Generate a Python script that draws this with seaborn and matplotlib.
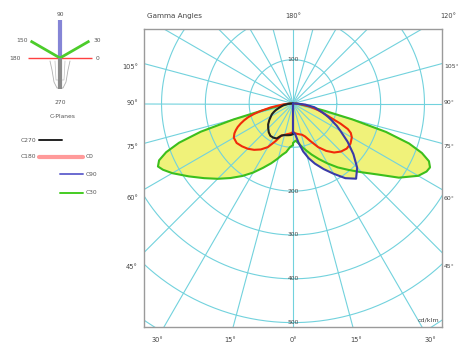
import numpy as np
import pandas as pd
import matplotlib
matplotlib.use('Agg')
import matplotlib.pyplot as plt
import seaborn as sns

# gamma angles (deg from nadir) and intensities in cd/klm
gamma = [0, 4, 8, 12, 16, 20, 25, 30, 35, 40, 45, 50, 55, 60, 63, 65, 67, 69, 71, 73, 75, 77, 80, 85, 90]
green_c150 = [95, 100, 112, 120, 132, 145, 162, 182, 202, 222, 243, 265, 290, 318, 333, 340, 332, 310, 275, 220, 140, 75, 35, 12, 3]
green_c30 = [90, 85, 92, 102, 112, 124, 140, 158, 178, 198, 222, 252, 295, 330, 342, 345, 337, 315, 280, 222, 140, 75, 35, 12, 3]
red_c180 = [65, 68, 70, 72, 75, 78, 95, 115, 128, 138, 146, 152, 157, 156, 150, 144, 137, 128, 118, 107, 92, 75, 52, 22, 5]
red_c0 = [65, 68, 70, 72, 74, 80, 95, 115, 132, 146, 155, 160, 160, 155, 148, 138, 118, 95, 80, 70, 60, 50, 38, 18, 5]
black_c270 = [70, 72, 73, 74, 75, 78, 88, 90, 90, 86, 80, 74, 66, 58, 54, 50, 46, 42, 37, 33, 29, 26, 22, 12, 4]
blue_c90 = [65, 70, 90, 112, 130, 146, 165, 185, 208, 224, 207, 180, 152, 125, 112, 102, 94, 86, 78, 70, 63, 57, 50, 28, 6]

ring_values = [100, 200, 300, 400, 500, 600, 700]
ring_labels = [100, 200, 300, 400, 500]
side_labels = ['105°', '90°', '75°', '60°', '45°']
bottom_labels = ['30°', '15°', '0°', '15°', '30°']

c_planes = [90, 0, 180, 30, 150, 270]
c_plane_labels = ['90', '0', '180', '30', '150', '270']
legend_names = ['C270', 'C180', 'C0', 'C90', 'C30']

GRID = '#72d2dd'
YELLOW = '#f0f27a'
COLORS = {'green': '#3cbf1c', 'red': '#f02a0a', 'black': '#222222', 'blue': '#3a3aa8'}
TXT = '#444444'


def to_xy(g, r, side):
    g = np.radians(g)
    r = np.asarray(r, float)
    return side * r * np.sin(g), -r * np.cos(g)


def closed(left, right):
    # left half from 90 deg down to nadir, right half from nadir up to 90 deg
    xs, ys = [], []
    if left is not None:
        x, y = to_xy(gamma, left, -1)
        xs += list(x[::-1]); ys += list(y[::-1])
    if right is not None:
        x, y = to_xy(gamma, right, 1)
        xs += list(x); ys += list(y)
    if left is None or right is None:
        xs = [0] + xs + [0]; ys = [0] + ys + [0]
    return xs, ys


curves = {
    'green': closed(green_c150, green_c30),
    'red': closed(red_c180, red_c0),
    'black': closed(black_c270, None),
    'blue': closed(None, blue_c90),
}
rows = []
for name, (xs, ys) in curves.items():
    for x, y in zip(xs, ys):
        rows.append({'curve': name, 'x': x, 'y': y})
df = pd.DataFrame(rows)

sns.set_style('white')
plt.rcParams['font.family'] = ['DejaVu Sans']

fig = plt.figure(figsize=(4.58, 3.48), dpi=100)
ax = fig.add_axes([144 / 458, 1 - 327 / 348, 298 / 458, 298 / 348])
ax.set_xlim(-340, 340)
ax.set_ylim(-510, 170)
ax.set_xticks([]); ax.set_yticks([])
for s in ax.spines.values():
    s.set_color('#9a9a9a'); s.set_linewidth(1.0)

# yellow fill under everything
for name, (xs, ys) in curves.items():
    ax.fill(xs, ys, color=YELLOW, lw=0, zorder=1)

# polar grid
t = np.linspace(0, 2 * np.pi, 361)
for rv in ring_values:
    ax.plot(rv * np.cos(t), rv * np.sin(t), color=GRID, lw=0.8, zorder=2)
for a in range(0, 360, 15):
    ar = np.radians(a)
    ax.plot([0, 800 * np.cos(ar)], [0, 800 * np.sin(ar)], color=GRID, lw=0.8, zorder=2)

sns.lineplot(data=df, x='x', y='y', hue='curve', palette=COLORS, sort=False,
             estimator=None, legend=False, lw=1.5, ax=ax, zorder=3)
ax.set_xlabel(''); ax.set_ylabel('')

for rv in ring_labels:
    yy = rv if rv == 100 else -rv
    ax.text(0, yy, str(rv), ha='center', va='center', fontsize=4.3, color=TXT, zorder=4)

ax.text(0.99, 0.015, 'cd/klm', transform=ax.transAxes, ha='right', va='bottom', fontsize=4.6, color=TXT)

# frame labels
side_y = [67, 103, 147, 198, 267]
for lab, py in zip(side_labels, side_y):
    fig.text(138 / 458, 1 - py / 348, lab, ha='right', va='center', fontsize=4.8, color=TXT)
    fig.text(444 / 458, 1 - py / 348, lab, ha='left', va='center', fontsize=4.4, color=TXT)
bottom_x = [157, 230, 293, 356, 430]
for lab, px in zip(bottom_labels, bottom_x):
    fig.text(px / 458, 1 - 340 / 348, lab, ha='center', va='center', fontsize=4.8, color=TXT)
fig.text(147 / 458, 1 - 16 / 348, 'Gamma Angles', ha='left', va='center', fontsize=5.2, color=TXT)
fig.text(293 / 458, 1 - 16 / 348, '180°', ha='center', va='center', fontsize=4.8, color=TXT)
fig.text(440 / 458, 1 - 16 / 348, '120°', ha='left', va='center', fontsize=4.8, color=TXT)

# C-plane mini diagram and legend
lx = fig.add_axes([0, 1 - 210 / 348, 120 / 458, 210 / 348])
lx.set_xlim(-60, 60)
lx.set_ylim(-152, 58)
lx.axis('off')

plane_len = {90: 38, 0: 32, 180: 32, 30: 34, 150: 34, 270: 31}
plane_col = {90: '#8585d6', 0: '#ff4040', 180: '#ff4040', 30: '#4ccc2a', 150: '#4ccc2a', 270: '#8a8a8a'}
plane_lw = {90: 3.0, 0: 1.0, 180: 1.0, 30: 2.0, 150: 2.0, 270: 3.0}
outline_x = [-10, -8, -6, -3, 3, 6, 8, 10]
outline_y = [-3, -12, -24, -30, -30, -24, -12, -3]
lx.plot(outline_x, outline_y, color='#b0b0b0', lw=0.6)
lx.plot([-5, -4, 4, 5], [-3, -22, -22, -3], color='#c0c0c0', lw=0.5)
for c in c_planes:
    cr = np.radians(c)
    L = plane_len[c]
    lx.plot([0, L * np.cos(cr)], [0, L * np.sin(cr)], color=plane_col[c], lw=plane_lw[c],
            solid_capstyle='butt')
lab_pos = {'90': (0, 44), '0': (37, -1), '180': (-45, -1), '30': (37, 17), '150': (-38, 17), '270': (0, -45)}
for lab in c_plane_labels:
    px, py = lab_pos[lab]
    lx.text(px, py, lab, ha='center', va='center', fontsize=4.3, color='#555555')
lx.text(3, -59, 'C-Planes', ha='center', va='center', fontsize=4.3, color='#555555')

# legend rows
lx.plot([-21, 2], [-82, -82], color='#222222', lw=1.4)
lx.plot([-21, 23], [-99, -99], color='#ff9a9a', lw=3.0)
lx.plot([0, 23], [-116, -116], color='#6a6ad0', lw=1.4)
lx.plot([0, 23], [-135, -135], color='#44cc22', lw=1.4)
lx.text(-24, -82, legend_names[0], ha='right', va='center', fontsize=4.3, color='#555555')
lx.text(-24, -99, legend_names[1], ha='right', va='center', fontsize=4.3, color='#555555')
lx.text(26, -99, legend_names[2], ha='left', va='center', fontsize=4.3, color='#555555')
lx.text(26, -116, legend_names[3], ha='left', va='center', fontsize=4.3, color='#555555')
lx.text(26, -135, legend_names[4], ha='left', va='center', fontsize=4.3, color='#555555')

fig.savefig('out.png', dpi=100)
